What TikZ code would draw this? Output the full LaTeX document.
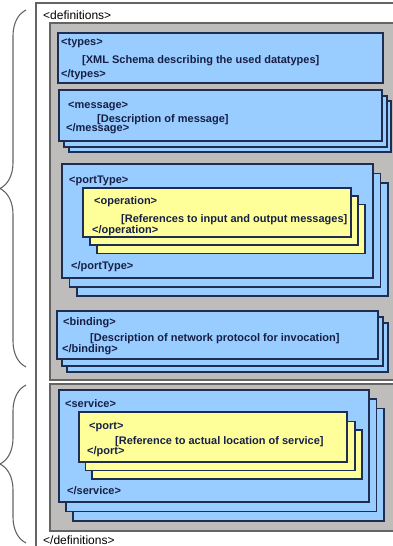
\documentclass[tikz,border=0pt]{standalone}
\usepackage{fontspec}
\setmainfont{Liberation Sans}
\usetikzlibrary{decorations.pathreplacing}
\definecolor{framegray}{RGB}{100,100,100}
\definecolor{panelgray}{RGB}{191,189,187}
\definecolor{boxblue}{RGB}{153,204,255}
\definecolor{boxyellow}{RGB}{255,255,153}
\definecolor{boxline}{RGB}{31,45,80}
\definecolor{tagtext}{RGB}{22,32,70}
\tikzset{
  panel/.style = {draw=framegray, line width=1.2pt, fill=panelgray},
  bluebox/.style = {draw=boxline, line width=1.1pt, fill=boxblue},
  yellowbox/.style = {draw=boxline, line width=1.1pt, fill=boxyellow},
  tag/.style = {anchor=mid west, inner sep=0pt, text=tagtext, font=\bfseries\fontsize{11}{13}\selectfont},
  curly/.style = {draw=framegray, line width=1.1pt, decorate,
    decoration = {brace, amplitude=26pt}}
}

\begin{document}
\begin{tikzpicture}[x=1pt, y=-1pt]
  \useasboundingbox (0,0) rectangle (393,546);

  %% WSDL document structure

  % Braces
  \draw[curly] (26,367) -- (26,10);
  \draw[curly] (26,543) -- (26,385);

  % Definitions frame
  \draw[framegray, line width=1.4pt] (36,546) -- (36,3) -- (395,3);
  \node[anchor=mid west, inner sep=0pt, font=\fontsize{12}{14}\selectfont] (defopen) at (43,17) {<definitions>};
  \node[anchor=mid west, inner sep=0pt, font=\fontsize{12}{14}\selectfont] (defclose) at (43,542) {</definitions>};

  % Panels
  \draw[panel] (50,23) rectangle (397,380);
  \draw[panel] (50,384) rectangle (397,531);

  % Types
  \draw[bluebox] (58,33) rectangle (383,83);
  \node[tag] (typesopen) at (61,43) {<types>};
  \node[tag] (typesbody) at (82,61) {[XML Schema describing the used datatypes]};
  \node[tag] (typesclose) at (61,75) {</types>};

  % Message
  \draw[bluebox] (69,101) rectangle (391,152);
  \draw[bluebox] (64,96) rectangle (387,147);
  \draw[bluebox] (59,90) rectangle (382,141);
  \node[tag] (msgopen) at (68,106) {<message>};
  \node[tag] (msgbody) at (97,120) {[Description of message]};
  \node[tag] (msgclose) at (66,129) {</message>};

  % PortType
  \draw[bluebox] (77,183) rectangle (388,296);
  \draw[bluebox] (69.5,173.5) rectangle (380.5,287);
  \draw[bluebox] (62,164) rectangle (373,278);
  \node[tag] (ptopen) at (69,181) {<portType>};
  \node[tag] (ptclose) at (71,267) {</portType>};

  % Operation
  \draw[yellowbox] (97,204.5) rectangle (365,253.5);
  \draw[yellowbox] (90,196) rectangle (358,245);
  \draw[yellowbox] (83,188) rectangle (351,237);
  \node[tag] (opopen) at (94,202) {<operation>};
  \node[tag] (opbody) at (121,220) {[References to input and output messages]};
  \node[tag] (opclose) at (92,231) {</operation>};

  % Binding
  \draw[bluebox] (67,323) rectangle (388,372);
  \draw[bluebox] (62,317) rectangle (383,366);
  \draw[bluebox] (57,311) rectangle (378,359);
  \node[tag] (bindopen) at (63,323) {<binding>};
  \node[tag] (bindbody) at (90,339) {[Description of network protocol for invocation]};
  \node[tag] (bindclose) at (62,350) {</binding>};

  % Service
  \draw[bluebox] (73,408.5) rectangle (384,521);
  \draw[bluebox] (66,399) rectangle (376.5,511.5);
  \draw[bluebox] (59,390) rectangle (369,502);
  \node[tag] (svcopen) at (65,405) {<service>};
  \node[tag] (svcclose) at (67,492) {</service>};

  % Port
  \draw[yellowbox] (92,430) rectangle (362,479);
  \draw[yellowbox] (85.5,421.5) rectangle (355,470.5);
  \draw[yellowbox] (79,412) rectangle (347,462);
  \node[tag] (portopen) at (89,427) {<port>};
  \node[tag] (portbody) at (115,442) {[Reference to actual location of service]};
  \node[tag] (portclose) at (87,452) {</port>};

\end{tikzpicture}
\end{document}
